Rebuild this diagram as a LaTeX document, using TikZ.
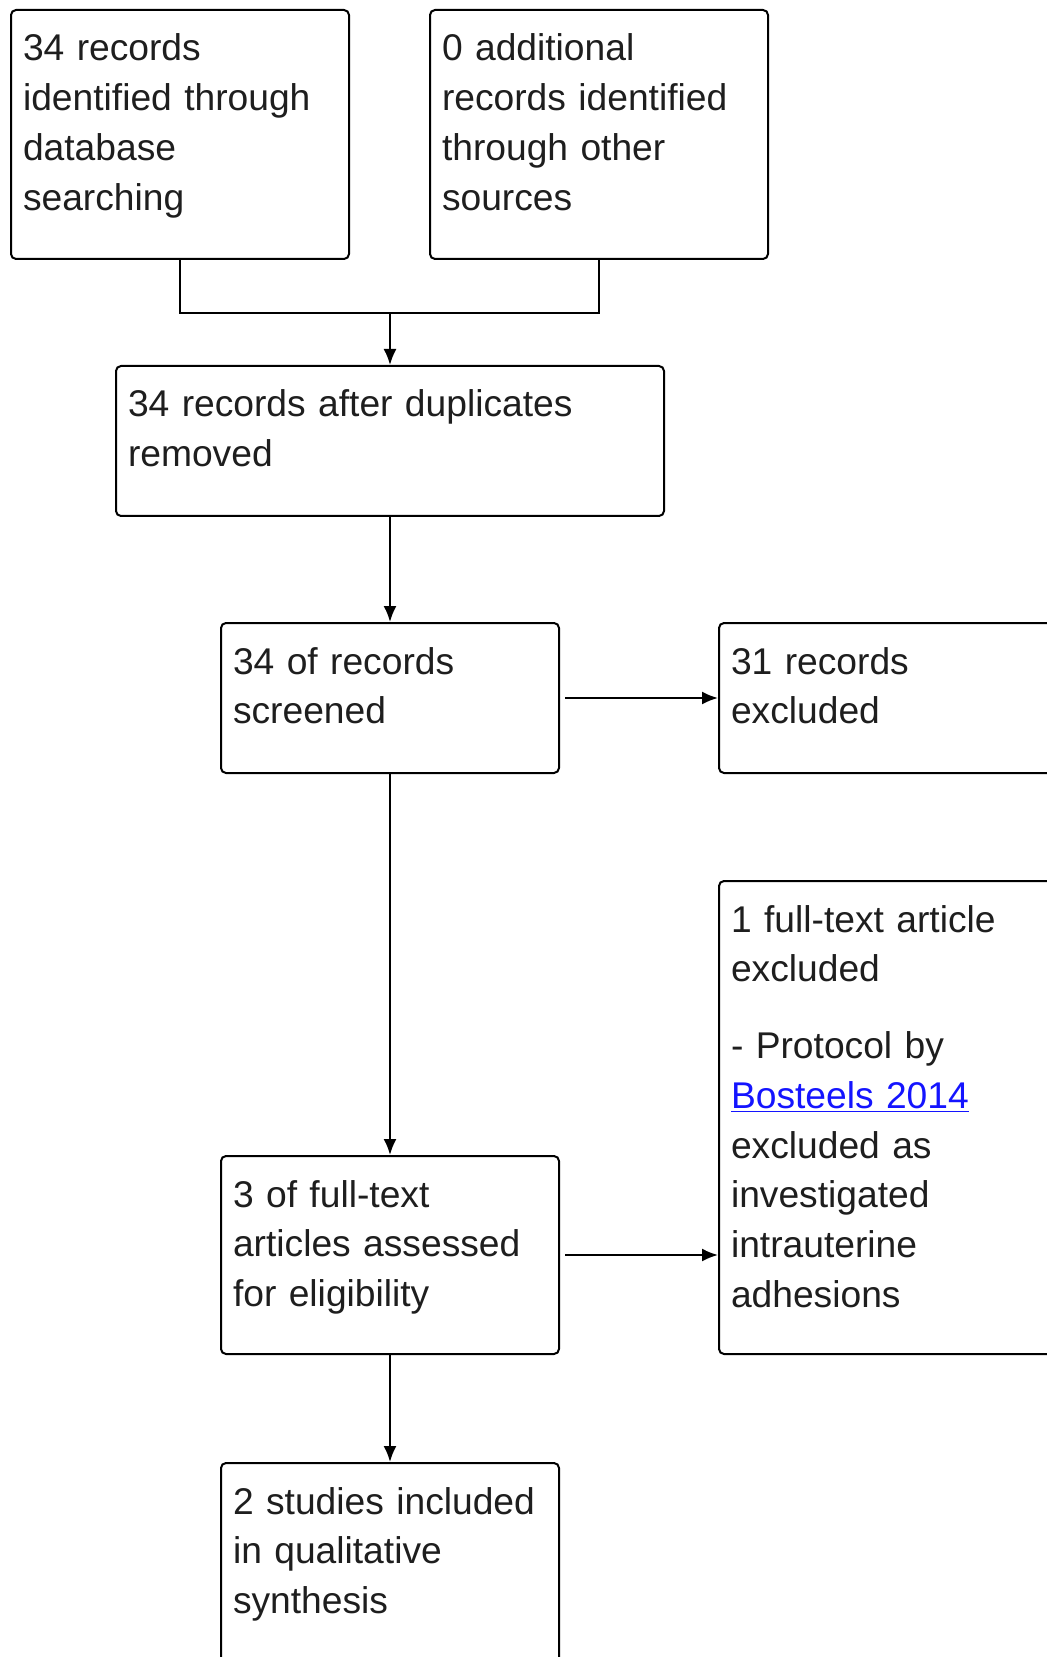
\documentclass[tikz,border=0pt]{standalone}
\usepackage{fontspec}
\setmainfont{Liberation Sans}
\usetikzlibrary{arrows.meta}
\definecolor{linkblue}{RGB}{20,20,255}
\definecolor{textgrey}{RGB}{30,30,30}

\begin{document}
\begin{tikzpicture}[x=0.5pt,y=-0.5pt]

      \useasboundingbox (0,0) rectangle (1047,1657);
      \clip (0,0) rectangle (1047,1657);

      \begin{scope}[every node/.style={draw,line width=1pt,rounded corners=2.5pt,
          anchor=north west,align=left,inner xsep=6pt,inner ysep=0pt,
          text height=25.5pt,text width=157pt,text=textgrey,
          font=\fontsize{18.6pt}{24.85pt}\selectfont}]
        \node[text depth=99pt] (db) at (10,9) {34 records\\identified through\\database\\searching};
        \node[text depth=99pt] (other) at (429,9) {0 additional\\records identified\\through other\\sources};
        \node[text depth=49.5pt,text width=262pt] (dup) at (115,365) {34 records after duplicates\\removed};
        \node[text depth=49.5pt] (screen) at (220,622) {34 of records\\screened};
        \node[text depth=49.5pt,text width=188pt] (excl) at (718,622) {31 records\\excluded};
        \node[text depth=211pt,text width=188pt] (ftexcl) at (718,880) {1 full-text article\\excluded\\[13.7pt]
          - Protocol by\\{\color{linkblue}\underline{Bosteels 2014}}\\excluded as\\investigated\\intrauterine\\adhesions};
        \node[text depth=73.5pt] (elig) at (220,1155) {3 of full-text\\articles assessed\\for eligibility};
        \node[text depth=99.5pt] (incl) at (220,1462) {2 studies included\\in qualitative\\synthesis};
      \end{scope}


      \begin{scope}[line width=1pt,every edge/.style={draw,-{Latex[length=8pt,width=6.5pt]}}]
        \coordinate (join) at (dup.north |- 0,313);
        \draw (db.south) |- (join) -| (other.south);
        \path (join) edge (dup.north);
        \path (dup.south) edge (screen.north);
        \path ([xshift=2.5pt]screen.east) edge (excl.west);
        \path (screen.south) edge (elig.north);
        \path ([xshift=2.5pt]elig.east) edge (elig.east -| ftexcl.west);
        \path (elig.south) edge (incl.north);
      \end{scope}

    \end{tikzpicture}
\end{document}
